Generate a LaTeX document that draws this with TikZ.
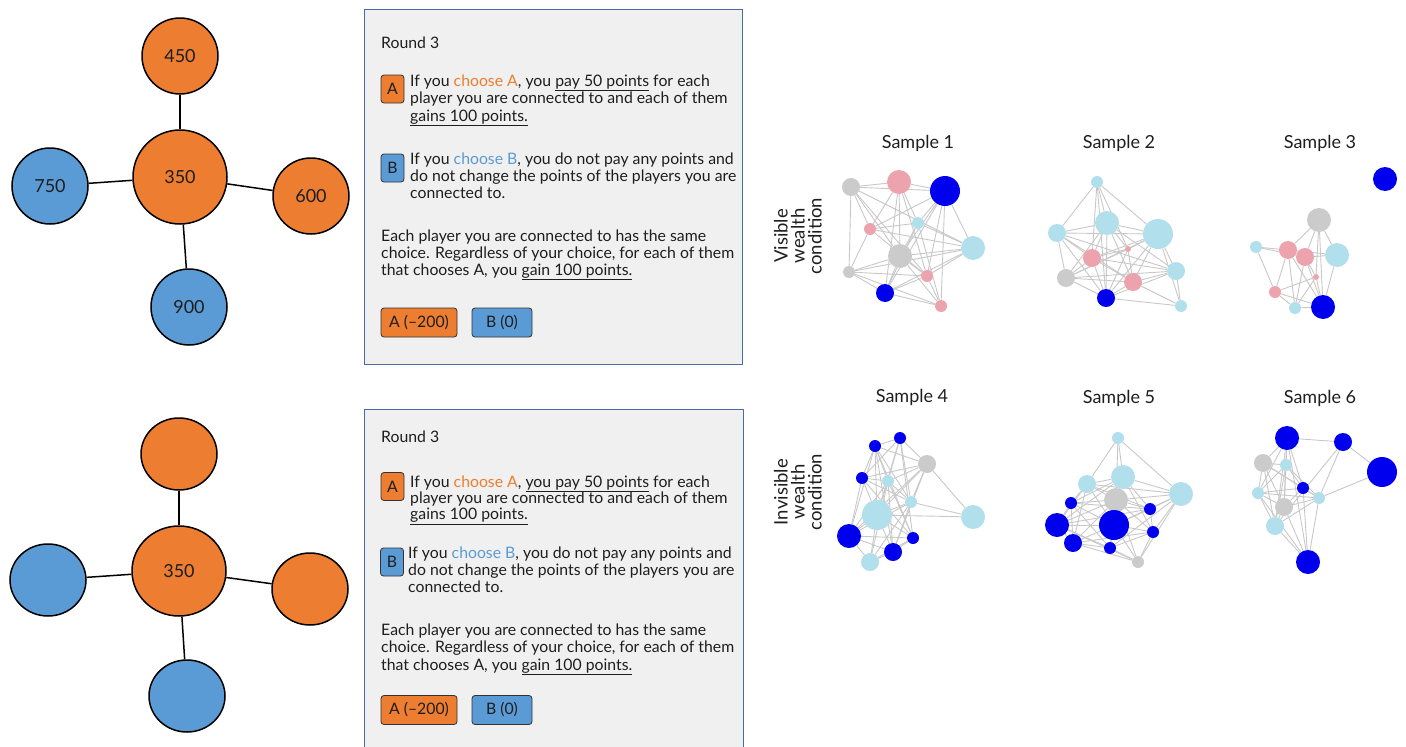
\documentclass[tikz,border=0pt]{standalone}
\usepackage{fontspec}
\setmainfont{Lato}
\usetikzlibrary{shapes.geometric,backgrounds}
\definecolor{corange}{HTML}{ED7D31}
\definecolor{cblue}{HTML}{5B9BD5}
\definecolor{panelfill}{HTML}{F0F0F0}
\definecolor{panelborder}{HTML}{4A6BAA}
\definecolor{textc}{HTML}{1E1E1E}
\definecolor{cpink}{HTML}{EDA3AE}
\definecolor{clb}{HTML}{B2DFEC}
\definecolor{cgr}{HTML}{CBCBCB}
\definecolor{cdb}{HTML}{0000EE}
\definecolor{cedge}{HTML}{C8C8C8}
\newcommand\myul[1]{\underline{#1}}
\begin{document}
\begin{tikzpicture}[x=1pt,y=-1pt,
  lnode/.style={circle,draw=black,line width=1.5pt,inner sep=0pt,minimum size=76pt,font=\fontsize{18}{20}\selectfont,text=textc},
  cnode/.style={lnode,minimum size=94pt},
  enode/.style={ellipse,draw=black,line width=1.5pt,inner sep=0pt,minimum width=76pt,minimum height=72pt,font=\fontsize{18}{20}\selectfont,text=textc},
  ecnode/.style={enode,minimum width=94pt,minimum height=90pt},
  ledge/.style={line width=1.5pt,black},
  panel/.style={draw=panelborder,line width=0.8pt,fill=panelfill},
  txt/.style={anchor=base west,inner sep=0pt,font=\fontsize{15.8}{17}\selectfont,text=textc},
  letterbox/.style={draw=black!80,line width=0.8pt,rounded corners=3pt,minimum width=23pt,minimum height=28pt,inner sep=0pt,font=\fontsize{15.8}{17}\selectfont,text=textc},
  btn/.style={draw=black!80,line width=0.8pt,rounded corners=3pt,minimum height=29pt,inner sep=0pt,font=\fontsize{15.8}{17}\selectfont,text=textc},
  sn/.style={circle,inner sep=0pt,draw=none},
  pk/.style={sn,fill=cpink},
  lb/.style={sn,fill=clb},
  gr/.style={sn,fill=cgr},
  bl/.style={sn,fill=cdb},
  za/.style={minimum size=6pt},
  zb/.style={minimum size=12pt},
  zc/.style={minimum size=18pt},
  zd/.style={minimum size=24pt},
  ze/.style={minimum size=30pt},
  sedge/.style={cedge,line width=0.9pt},
  ttl/.style={font=\fontsize{18}{20}\selectfont,text=textc,inner sep=0pt},
  cond/.style={rotate=90,align=center,font=\fontsize{18.5}{17}\selectfont,text=textc,inner sep=0pt}
]
\useasboundingbox (0,0) rectangle (1406,747);

% ---------- left networks ----------
\node[cnode,fill=corange] (t350) at (180,177) {350};
\node[lnode,fill=corange] (t450) at (180,56) {450};
\node[lnode,fill=cblue] (t750) at (50,186) {750};
\node[lnode,fill=corange] (t600) at (311,196) {600};
\node[lnode,fill=cblue] (t900) at (189,307) {900};
\foreach \n in {t450,t750,t600,t900} \draw[ledge] (t350) -- (\n);

\node[ecnode,fill=corange] (b350) at (179,571) {350};
\node[enode,fill=corange] (btop) at (179,454) {};
\node[enode,fill=cblue] (bleft) at (48,580) {};
\node[enode,fill=corange] (bright) at (310,589) {};
\node[enode,fill=cblue] (bbot) at (187,696) {};
\foreach \n in {btop,bleft,bright,bbot} \draw[ledge] (b350) -- (\n);

% ---------- top panel ----------
\node[panel,anchor=north west,minimum width=378pt,minimum height=355pt,inner sep=0pt] (p1) at (364,9) {};
\node[txt] (p1r) at (381,48) {Round 3};
\node[letterbox,fill=corange] (p1A) at (392.5,89) {A};
\node[txt] (p1a1) at (410,86) {If you \textcolor{corange}{choose A}, you \myul{pay 50 points} for each};
\node[txt] (p1a2) at (410,103.5) {player you are connected to and each of them};
\node[txt] (p1a3) at (410,121) {\myul{gains 100 points.}};
\node[letterbox,fill=cblue] (p1B) at (392.5,168) {B};
\node[txt] (p1b1) at (410,164) {If you \textcolor{cblue}{choose B}, you do not pay any points and};
\node[txt] (p1b2) at (410,181) {do not change the points of the players you are};
\node[txt] (p1b3) at (410,198) {connected to.};
\node[txt] (p1c1) at (381,241) {Each player you are connected to has the same};
\node[txt] (p1c2) at (381,258) {choice. Regardless of your choice, for each of them};
\node[txt] (p1c3) at (381,275) {that chooses A, you \myul{gain 100 points.}};
\node[btn,fill=corange,minimum width=76pt] (p1btnA) at (419,322.5) {A (–200)};
\node[btn,fill=cblue,minimum width=60pt] (p1btnB) at (502,322.5) {B (0)};

% ---------- bottom panel ----------
\node[panel,anchor=north west,minimum width=379pt,minimum height=345pt,inner sep=0pt] (p2) at (364,409) {};
\node[txt] (p2r) at (381,442) {Round 3};
\node[letterbox,fill=corange] (p2A) at (392.5,486.5) {A};
\node[txt] (p2a1) at (410,487) {If you \textcolor{corange}{choose A}, \myul{you pay 50 points} for each};
\node[txt] (p2a2) at (410,503.5) {player you are connected to and each of them};
\node[txt] (p2a3) at (410,519.5) {\myul{gains 100 points.}};
\node[letterbox,fill=cblue] (p2B) at (392,562) {B};
\node[txt] (p2b1) at (408,558) {If you \textcolor{cblue}{choose B}, you do not pay any points and};
\node[txt] (p2b2) at (408,575) {do not change the points of the players you are};
\node[txt] (p2b3) at (408,592) {connected to.};
\node[txt] (p2c1) at (381,635) {Each player you are connected to has the same};
\node[txt] (p2c2) at (381,652) {choice. Regardless of your choice, for each of them};
\node[txt] (p2c3) at (381,670) {that chooses A, you \myul{gain 100 points.}};
\node[btn,fill=corange,minimum width=76pt] (p2btnA) at (419,710) {A (–200)};
\node[btn,fill=cblue,minimum width=60pt] (p2btnB) at (502,710) {B (0)};

% ---------- condition labels ----------
\node[cond] (vis) at (798,236) {Visible\\wealth\\condition};
\node[cond] (invis) at (798,492) {Invisible\\wealth\\condition};

% ---------- Sample 1 ----------
\node[ttl] (st1) at (918,143) {Sample 1};
\node[gr,zc] (s1a) at (851,187) {};
\node[pk,zd] (s1b) at (899,182) {};
\node[bl,ze] (s1c) at (945,191) {};
\node[pk,zb] (s1d) at (870,229) {};
\node[lb,zb] (s1e) at (918,223) {};
\node[gr,zd] (s1f) at (900,256) {};
\node[lb,zd] (s1g) at (973,248) {};
\node[gr,zb] (s1h) at (849,272) {};
\node[pk,zb] (s1i) at (927,276) {};
\node[bl,zc] (s1j) at (885,293) {};
\node[pk,zb] (s1k) at (941,306) {};
\begin{scope}[on background layer]
\foreach \u/\v in {a/b,a/c,a/d,a/h,a/f,a/i,a/g,b/c,b/d,b/f,b/e,b/j,b/i,c/d,c/e,c/f,c/g,c/i,c/k,c/j,d/e,d/g,d/h,d/i,e/g,e/f,e/k,e/j,f/g,f/h,f/j,f/i,f/k,g/h,g/i,g/j,h/j,h/i,h/k,j/k,j/i,i/k}
  \draw[sedge] (s1\u) -- (s1\v);
\end{scope}

% ---------- Sample 2 ----------
\node[ttl] (st2) at (1119,143) {Sample 2};
\node[lb,zb] (s2a) at (1097,182) {};
\node[lb,zc] (s2b) at (1057,233) {};
\node[lb,zd] (s2c) at (1107,223) {};
\node[lb,ze] (s2d) at (1158,234) {};
\node[pk,za] (s2e) at (1128,249) {};
\node[pk,zc] (s2f) at (1092,258) {};
\node[gr,zc] (s2g) at (1066,278) {};
\node[pk,zc] (s2h) at (1133,282) {};
\node[lb,zc] (s2i) at (1176,271) {};
\node[bl,zc] (s2j) at (1106,298) {};
\node[lb,zb] (s2k) at (1181,306) {};
\begin{scope}[on background layer]
\foreach \u/\v in {a/b,a/c,a/f,a/j,a/d,a/e,b/c,b/d,b/f,b/g,b/h,b/i,b/j,c/d,c/e,c/f,c/g,c/h,c/j,c/i,d/e,d/f,d/g,d/h,d/i,d/j,d/k,e/f,e/g,e/h,e/j,f/g,f/h,f/j,f/i,g/h,g/j,g/i,h/j,h/i,h/k,i/j,i/k,j/k}
  \draw[sedge] (s2\u) -- (s2\v);
\end{scope}

% ---------- Sample 3 ----------
\node[ttl] (st3) at (1320,143) {Sample 3};
\node[bl,zd] (s3a) at (1385,179) {};
\node[gr,zd] (s3b) at (1319,220) {};
\node[lb,zb] (s3c) at (1256,247) {};
\node[pk,zc] (s3d) at (1288,250) {};
\node[pk,zc] (s3e) at (1305,257) {};
\node[lb,zd] (s3f) at (1337,255) {};
\node[pk,za] (s3g) at (1316,277) {};
\node[pk,zb] (s3h) at (1275,292) {};
\node[lb,zb] (s3i) at (1295,308) {};
\node[bl,zd] (s3j) at (1323,307) {};
\begin{scope}[on background layer]
\foreach \u/\v in {b/d,b/e,b/f,b/g,b/j,c/d,c/e,c/h,d/e,d/f,d/h,d/i,d/j,e/f,e/g,e/i,e/j,f/j,g/h,g/i,g/j,h/i,h/j,i/j}
  \draw[sedge] (s3\u) -- (s3\v);
\end{scope}

% ---------- Sample 4 ----------
\node[ttl] (st4) at (912,397) {Sample 4};
\node[bl,zb] (s4a) at (875,446) {};
\node[bl,zb] (s4b) at (900,438) {};
\node[gr,zc] (s4c) at (927,464) {};
\node[bl,zb] (s4d) at (862,478) {};
\node[lb,zb] (s4e) at (888,481) {};
\node[lb,zb] (s4f) at (911,502) {};
\node[lb,ze] (s4g) at (877,515) {};
\node[lb,zd] (s4h) at (973,517) {};
\node[bl,zd] (s4i) at (849,536) {};
\node[bl,zb] (s4j) at (913,538) {};
\node[bl,zc] (s4k) at (893,552) {};
\node[lb,zc] (s4l) at (870,562) {};
\begin{scope}[on background layer]
\foreach \u/\v in {a/b,a/c,a/d,a/e,a/f,a/g,a/j,a/k,a/i,b/c,b/e,b/f,b/g,b/j,b/d,c/d,c/e,c/f,c/g,c/h,c/i,c/k,d/e,d/f,d/g,d/i,d/j,e/f,e/g,e/i,e/j,e/k,e/l,f/g,f/h,f/i,f/k,f/l,g/h,g/i,g/j,g/k,g/l,i/j,i/k,i/l,j/k,j/l,k/l}
  \draw[sedge] (s4\u) -- (s4\v);
\end{scope}

% ---------- Sample 5 ----------
\node[ttl] (st5) at (1119,398) {Sample 5};
\node[lb,zb] (s5a) at (1118,438) {};
\node[lb,zd] (s5b) at (1123,477) {};
\node[lb,zc] (s5c) at (1087,484) {};
\node[lb,zd] (s5d) at (1181,494) {};
\node[gr,zd] (s5e) at (1116,500) {};
\node[bl,zb] (s5f) at (1071,503) {};
\node[bl,zb] (s5g) at (1150,509) {};
\node[bl,zd] (s5h) at (1057,525) {};
\node[bl,ze] (s5i) at (1114,525) {};
\node[bl,zb] (s5j) at (1153,532) {};
\node[bl,zc] (s5k) at (1073,543) {};
\node[bl,zb] (s5l) at (1110,548) {};
\node[gr,zb] (s5m) at (1138,562) {};
\begin{scope}[on background layer]
\foreach \u/\v in {a/b,a/c,a/d,a/e,b/c,b/d,b/e,b/f,b/g,b/h,b/i,b/j,c/d,c/e,c/f,c/h,c/i,c/k,c/g,d/e,d/g,d/i,d/j,d/m,d/l,e/f,e/g,e/h,e/i,e/j,e/k,e/l,e/m,f/h,f/i,f/g,f/k,f/l,g/i,g/j,g/h,h/i,h/k,h/l,h/m,i/j,i/k,i/l,i/m,j/k,j/l,j/m,k/l,k/m,l/m}
  \draw[sedge] (s5\u) -- (s5\v);
\end{scope}

% ---------- Sample 6 ----------
\node[ttl] (st6) at (1320,398) {Sample 6};
\node[bl,zd] (s6a) at (1287,438) {};
\node[bl,zc] (s6b) at (1343,442) {};
\node[bl,ze] (s6c) at (1382,472) {};
\node[gr,zc] (s6d) at (1263,463) {};
\node[lb,zb] (s6e) at (1286,465) {};
\node[bl,zb] (s6f) at (1303,488) {};
\node[lb,zb] (s6g) at (1258,493) {};
\node[lb,zb] (s6h) at (1319,498) {};
\node[gr,zc] (s6i) at (1284,507) {};
\node[lb,zc] (s6j) at (1275,526) {};
\node[bl,zd] (s6k) at (1308,562) {};
\begin{scope}[on background layer]
\foreach \u/\v in {a/b,a/d,a/e,a/f,a/g,a/i,a/j,a/k,b/c,b/j,b/h,c/h,d/e,d/f,d/g,d/i,d/j,d/h,e/f,e/g,e/i,e/j,e/h,f/g,f/h,f/i,f/k,g/h,g/i,g/j,g/k,h/i,h/j,h/k,i/j,i/k,j/k}
  \draw[sedge] (s6\u) -- (s6\v);
\end{scope}
\end{tikzpicture}
\end{document}
